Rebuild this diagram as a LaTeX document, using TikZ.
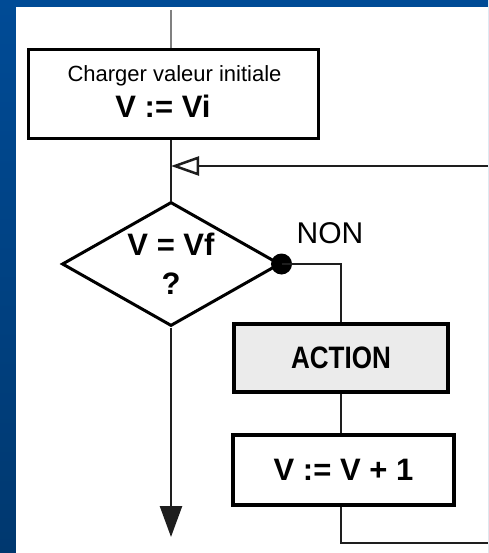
\documentclass[tikz,border=0pt]{standalone}
\usepackage{fontspec}
\setmainfont{Liberation Sans}
\usetikzlibrary{shapes.geometric,arrows.meta,calc}
\definecolor{bgtop}{HTML}{004B96}
\definecolor{bgbot}{HTML}{00386F}
\definecolor{actfill}{HTML}{EBEBEB}
\definecolor{connc}{HTML}{1E1E1E}
\begin{document}
\begin{tikzpicture}[x=1pt,y=-1pt,
  boxst/.style={draw=black,line width=3.5pt,rectangle,inner sep=0pt},
  conn/.style={draw=connc,line width=2.5pt},
  bigtxt/.style={font=\fontsize{31}{36}\selectfont\bfseries,inner sep=0pt},
  smalltxt/.style={font=\fontsize{22}{26}\selectfont,inner sep=0pt},
  nontxt/.style={font=\fontsize{30}{34}\selectfont,inner sep=0pt}]
\useasboundingbox (0,0) rectangle (488,553);
\shade[top color=bgtop,bottom color=bgbot] (0,0) rectangle (488,553);
\fill[white] (16,7) rectangle (488,553);

% nodes
\node[boxst,minimum width=290pt,minimum height=89pt] (init) at (173.5,94) {};
\node[smalltxt,anchor=base] (initt) at (174.5,82) {Charger valeur initiale};
\node[bigtxt,anchor=base] (initv) at (163,118) {V := Vi};

\node[diamond,draw=black,line width=3pt,minimum width=218pt,minimum height=124pt,inner sep=0pt] (dec) at (171,264) {};
\node[bigtxt,anchor=base] (dect) at (171,255) {V = Vf};
\node[bigtxt,anchor=base] (decq) at (171,294) {?};
\node[circle,fill=black,minimum size=21pt,inner sep=0pt] (dot) at (dec.east) {};
\node[nontxt,anchor=base] (non) at (330,243) {NON};

\node[boxst,fill=actfill,minimum width=214pt,minimum height=68pt,bigtxt] (act) at (341,358) {\scalebox{0.84}[1]{ACTION}};
\node[boxst,minimum width=221pt,minimum height=70pt,bigtxt] (inc) at (343.5,470) {V := V + 1};

% free ends
\coordinate (topin) at (171,10);
\coordinate (loopin) at (488,166);
\coordinate (loopout) at (488,543);
\coordinate (fin) at (171,537);

% connectors
\draw[draw=gray,line width=1.8pt] (topin) -- (init.north -| topin);
\draw[conn] (init.south -| dec.north) -- (dec.north);
\draw[conn,-{Triangle[open,length=28pt,width=19pt,line width=2.5pt]}] (loopin) -- (loopin -| dec.north);
\draw[conn] (dot.center) -| (act.north);
\draw[conn] (act.south) -- (act.south |- inc.north);
\draw[conn] (inc.south -| act.south) |- (loopout);
\draw[conn,-{Triangle[length=31pt,width=22pt]}] (dec.south) -- (fin);
\end{tikzpicture}
\end{document}
